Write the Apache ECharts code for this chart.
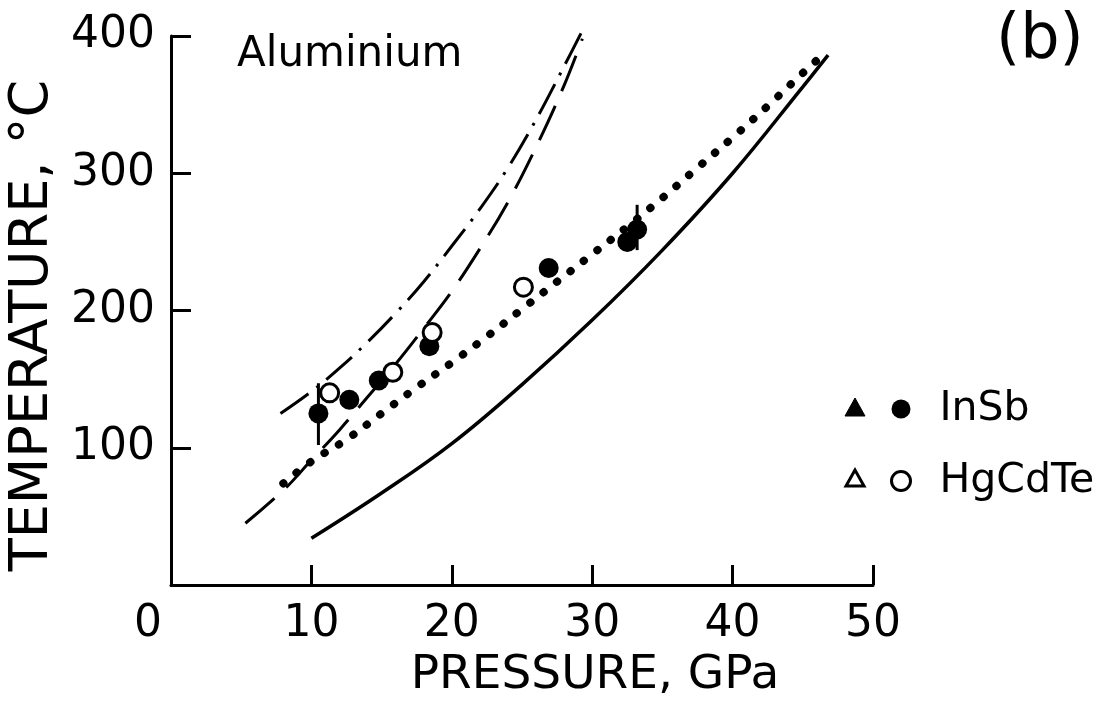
<!DOCTYPE html>
<html>
<head>
<meta charset="utf-8">
<script src="https://cdn.jsdelivr.net/npm/echarts@6/dist/echarts.min.js"></script>
<style>html,body{margin:0;padding:0;background:#fff;}#c{width:1108px;height:702px;}</style>
</head>
<body>
<div id="c"></div>
<script>
// ---- data (pressure GPa, temperature °C) ----
const xTicks = [0, 10, 20, 30, 40, 50];
const yTicks = [100, 200, 300, 400];
const solidCurve = [[10,34],[15,67],[20,103],[25,146],[30,193],[35,244],[40,300],[45,363],[46.8,386]];
const dashedCurve = [[5.3,45],[8,69],[10,91],[12,113],[14,137],[16,161],[18,187],[20,214],[22,245],[24,279],[26,319],[28,364],[29.3,398]];
const dashDotCurve = [[7.8,125],[10,141],[12,158],[14,177],[16,198],[18,221],[20,247],[22,274],[24,304],[26,339],[28,378],[29.5,408]];
const dottedCurve = [[8,74],[10,90],[12.5,106],[15,125],[17.5,144],[20,162],[22.5,181],[25,201],[27.5,221],[30,241],[32.5,261],[35,282],[37.5,304],[40,326],[42.5,349],[45,373],[46.4,386]];
const inSbPoints = [[10.5,125],[12.7,135],[14.8,149],[18.4,174],[26.9,231],[32.5,250],[33.2,259]];
const hgCdTePoints = [[11.3,140],[15.8,155],[18.6,184],[25.1,217]];
const errorBar1 = [[10.5,102],[10.5,147]];
const errorBar2 = [[33.2,244],[33.2,277]];

const FONT = 'DejaVu Sans';
const chart = echarts.init(document.getElementById('c'), null, {renderer: 'canvas'});

function lineSeries(name, data, lineStyle, smooth) {
  return {
    name: name, type: 'line', data: data, showSymbol: false, symbol: 'none',
    smooth: smooth, clip: false, silent: true,
    lineStyle: Object.assign({color: '#000', width: 3}, lineStyle),
    z: 2
  };
}

chart.setOption({
  animation: false,
  backgroundColor: '#fff',
  textStyle: {fontFamily: FONT, color: '#000'},
  grid: {left: 171, right: 235, top: 36, bottom: 117, containLabel: false, outerBoundsMode: 'none'},
  xAxis: {
    type: 'value', min: 0, max: 50, interval: 10,
    name: 'PRESSURE, GPa', nameLocation: 'middle', nameGap: 62,
    nameTextStyle: {fontSize: 47, fontFamily: FONT, color: '#000', padding: [0, 0, 0, 146]},
    axisLine: {lineStyle: {color: '#000', width: 3}},
    axisTick: {inside: true, length: 20, lineStyle: {color: '#000', width: 3}},
    splitLine: {show: false},
    axisLabel: {
      fontSize: 44, fontFamily: FONT, color: '#000', margin: 18,
      formatter: function (v) { return v === 0 ? '{z|0}' : String(v); },
      rich: {z: {fontSize: 44, fontFamily: FONT, color: '#000', padding: [0, 46, 0, 0]}}
    }
  },
  yAxis: {
    type: 'value', min: 0, max: 400, interval: 100,
    name: 'TEMPERATURE, °C', nameLocation: 'middle', nameGap: 84, nameRotate: 90,
    nameTextStyle: {fontSize: 54, fontFamily: FONT, color: '#000', padding: [0, 30, 0, 0]},
    axisLine: {lineStyle: {color: '#000', width: 3}},
    axisTick: {inside: true, length: 20, lineStyle: {color: '#000', width: 3}},
    splitLine: {show: false},
    axisLabel: {
      fontSize: 44, fontFamily: FONT, color: '#000', margin: 16,
      formatter: function (v) { return yTicks.indexOf(v) >= 0 ? String(v) : ''; }
    }
  },
  legend: {
    orient: 'vertical', left: 890, top: 388, itemGap: 30, itemWidth: 19, itemHeight: 19,
    padding: 0,
    textStyle: {fontSize: 41, fontFamily: FONT, color: '#000', padding: [0, 0, 0, 24], lineHeight: 42},
    data: [{name: 'InSb', icon: 'circle'}, {name: 'HgCdTe', icon: 'circle', itemStyle: {color: '#fff', borderColor: '#000', borderWidth: 3}}]
  },
  graphic: [
    {type: 'text', left: 237, top: 34, style: {text: 'Aluminium', font: '42px "DejaVu Sans"', fill: '#000'}},
    {type: 'text', left: 996, top: 10, style: {text: '(b)', font: '62px "DejaVu Sans"', fill: '#000'}},
    {type: 'polygon', shape: {points: [[855, 398], [845, 416], [865, 416]]}, style: {fill: '#000', stroke: '#000', lineWidth: 1}},
    {type: 'polygon', shape: {points: [[855, 470], [846, 486], [864, 486]]}, style: {fill: '#fff', stroke: '#000', lineWidth: 3}}
  ],
  series: [
    lineSeries('solid', solidCurve, {type: 'solid', width: 3.5}, 0.4),
    lineSeries('dashed', dashedCurve, {type: [38, 16]}, 0.4),
    lineSeries('dashdot', dashDotCurve, {type: [34, 10, 3, 10]}, 0.4),
    lineSeries('dotted', dottedCurve, {type: [0.5, 16.5], width: 8, cap: 'round'}, 0.4),
    lineSeries('err1', errorBar1, {width: 3}, false),
    lineSeries('err2', errorBar2, {width: 3}, false),
    {
      name: 'InSb', type: 'scatter', data: inSbPoints, symbol: 'circle', symbolSize: 20,
      itemStyle: {color: '#000', opacity: 1}, z: 5
    },
    {
      name: 'HgCdTe', type: 'scatter', data: hgCdTePoints, symbol: 'circle', symbolSize: 18,
      itemStyle: {color: '#fff', borderColor: '#000', borderWidth: 3, opacity: 1}, z: 5
    }
  ]
});
</script>
</body>
</html>
